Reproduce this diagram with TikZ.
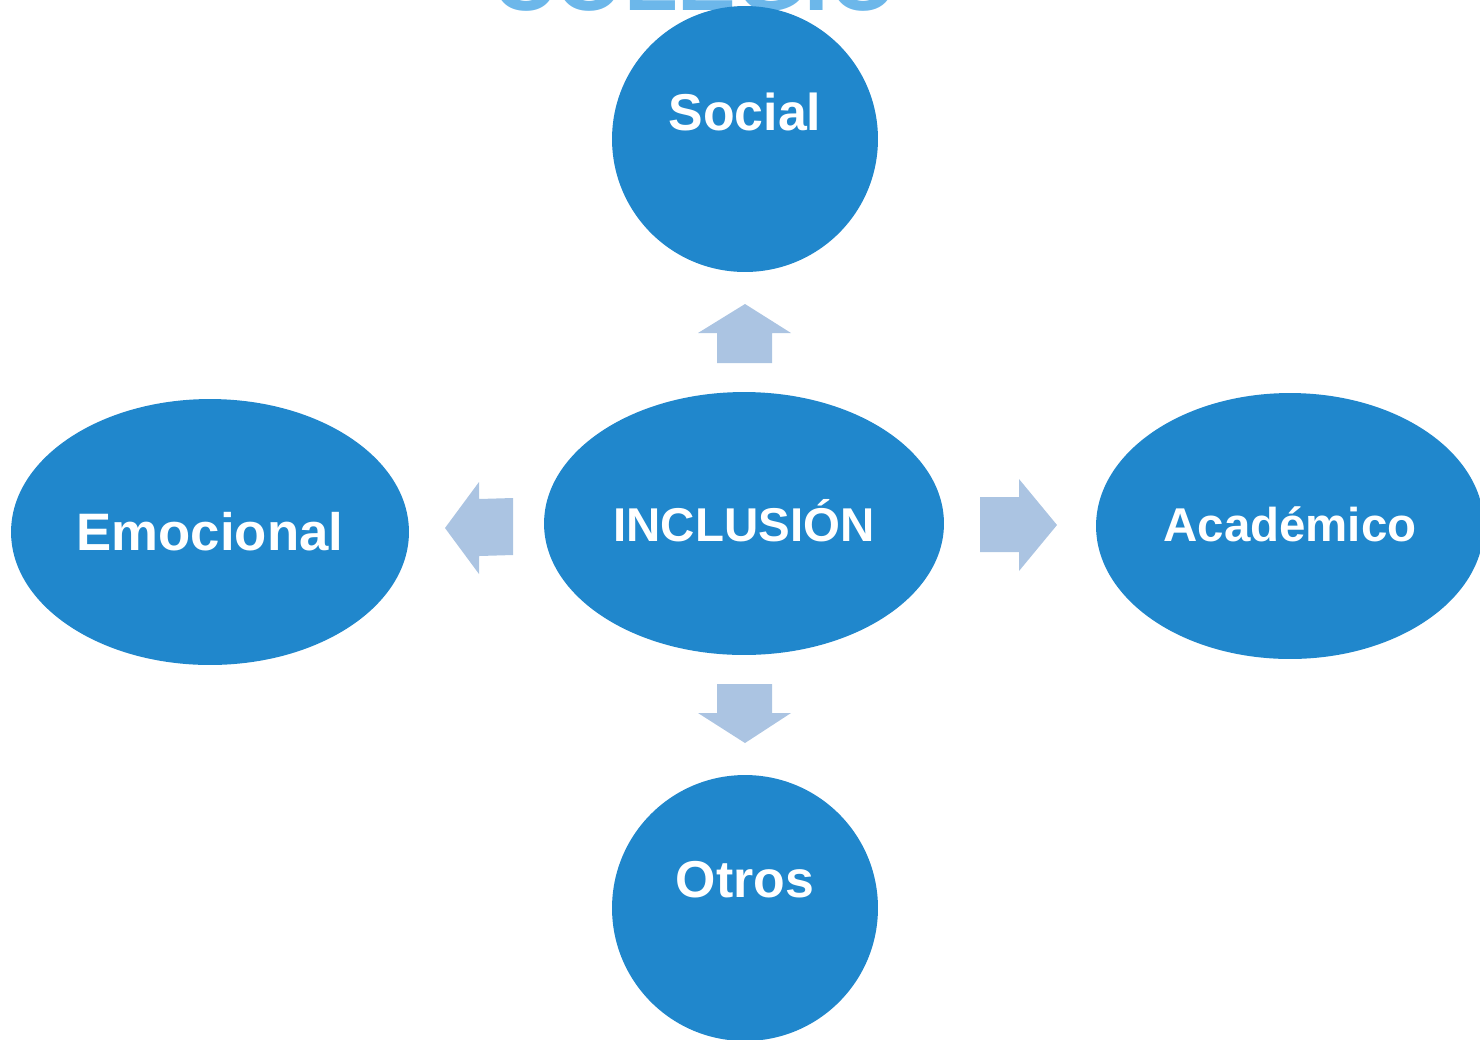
\documentclass[tikz,border=0pt]{standalone}
\usepackage{fontspec}
\setmainfont{Liberation Sans}
\usepackage{tikz}
\usetikzlibrary{shapes.geometric}
\usetikzlibrary{calc}
\definecolor{bolablue}{HTML}{2087CC}
\definecolor{flecha}{HTML}{ABC4E2}
\definecolor{titulo}{HTML}{6CB7EA}
\tikzstyle{bola} = [circle,fill=bolablue,inner sep=0pt,minimum size=5.32cm]
\tikzstyle{ovalo} = [ellipse,fill=bolablue,inner sep=0pt]
\tikzstyle{texto} = [text=white,font=\bfseries\fontsize{29.5}{32}\selectfont,inner sep=0pt]

\begin{document}
\begin{tikzpicture}[x=0.02cm,y=-0.02cm]
\useasboundingbox (0,0) rectangle (1480,1039);

% titulo cortado arriba
\node[anchor=base,text=titulo,font=\bfseries\fontsize{50}{54}\selectfont,inner sep=0pt] (titulo) at (695,10) {COLEGIO};

% circulos y ovalos
\node[bola] (social) at (745,139) {};
\node[bola] (otros) at (745,908) {};
\node[ovalo,minimum width=8cm,minimum height=5.26cm] (inclusion) at (744,523.5) {};
\node[ovalo,minimum width=7.96cm,minimum height=5.32cm] (emocional) at (210,532) {};
\node[ovalo,minimum width=7.76cm,minimum height=5.32cm] (academico) at (1290,526) {};

\node[texto] (socialtxt) at ([yshift=0.54cm]social.center) {Social};
\node[texto] (otrostxt) at ([yshift=0.56cm]otros.center) {Otros};
\node[texto,font=\bfseries\fontsize{30}{33}\selectfont] (emocionaltxt) at (emocional.center) {Emocional};
\node[texto,font=\bfseries\fontsize{27}{30}\selectfont] (inclusiontxt) at ([yshift=0.05cm]inclusion.center) {INCLUSIÓN};
\node[texto,font=\bfseries\fontsize{27}{30}\selectfont] (academicotxt) at ([yshift=0.04cm]academico.center) {Académico};

% flechas
\fill[flecha] (717,363) -- (717,333) -- (698,333) -- (745,304) -- (791,333) -- (772,333) -- (772,363) -- cycle;
\fill[flecha] (717,684) -- (717,713) -- (698,713) -- (745,743) -- (791,713) -- (772,713) -- (772,684) -- cycle;
\fill[flecha] (513,498) -- (479,499) -- (479,482) -- (445,528) -- (479,574) -- (479,556) -- (513,555) -- cycle;
\fill[flecha] (980,497) -- (1019,497) -- (1019,479) -- (1057,525) -- (1019,571) -- (1019,552) -- (980,552) -- cycle;
\end{tikzpicture}
\end{document}
